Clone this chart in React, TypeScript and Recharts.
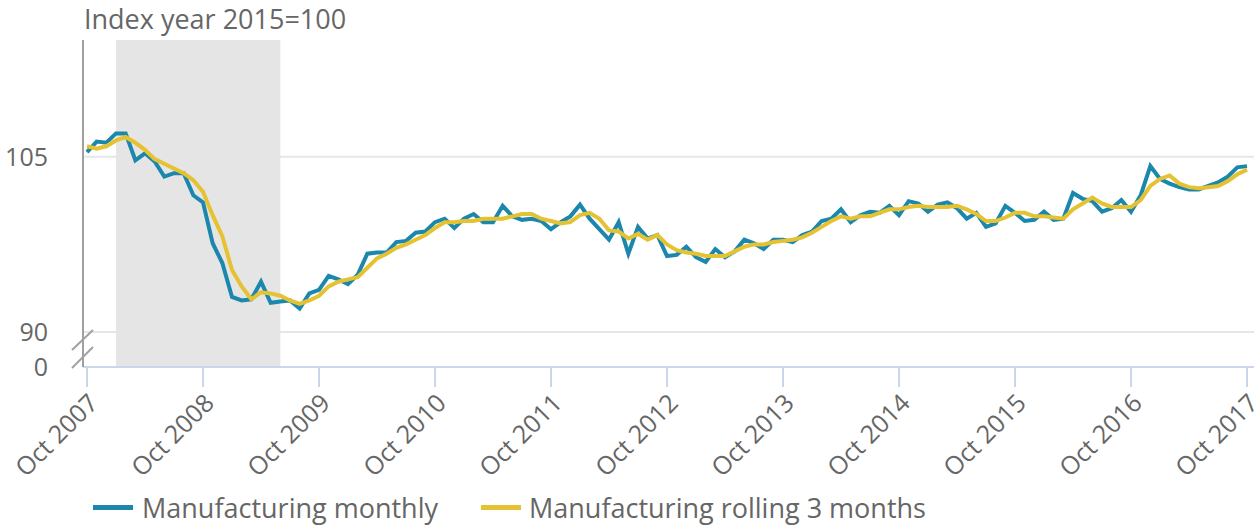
import React from "react";
import { LineChart, Line, XAxis, YAxis, CartesianGrid, ReferenceArea } from "recharts";

const MONTHS = ["Jan", "Feb", "Mar", "Apr", "May", "Jun", "Jul", "Aug", "Sep", "Oct", "Nov", "Dec"];
const START_YEAR = 2007;
const START_MONTH = 9; // October

// Manufacturing monthly, Oct 2007 - Oct 2017
const monthly = [
  105.4, 106.3, 106.2, 107.0, 107.0, 104.7, 105.3, 104.6, 103.3, 103.6, 103.6, 101.7,
  101.1, 97.6, 95.9, 93.0, 92.7, 92.8, 94.3, 92.5, 92.6, 92.7, 92.0, 93.3,
  93.6, 94.8, 94.5, 94.1, 94.9, 96.7, 96.8, 96.8, 97.7, 97.8, 98.5, 98.6,
  99.4, 99.7, 98.9, 99.7, 100.1, 99.4, 99.4, 100.8, 99.9, 99.6, 99.7, 99.5,
  98.8, 99.4, 99.9, 100.9, 99.7, 98.8, 97.9, 99.4, 96.7, 99.0, 98.0, 98.3,
  96.5, 96.6, 97.3, 96.4, 96.0, 97.1, 96.4, 96.9, 97.9, 97.6, 97.1, 97.9,
  97.9, 97.7, 98.3, 98.6, 99.5, 99.7, 100.5, 99.4, 100.0, 100.3, 100.2, 100.8,
  100.0, 101.2, 101.0, 100.3, 100.9, 101.1, 100.6, 99.7, 100.2, 99.0, 99.3, 100.8,
  100.2, 99.5, 99.6, 100.3, 99.6, 99.7, 101.9, 101.4, 101.2, 100.3, 100.6, 101.3,
  100.3, 101.7, 104.2, 103.1, 102.7, 102.4, 102.2, 102.2, 102.5, 102.8, 103.3, 104.1,
  104.2,
];

// Manufacturing rolling 3 months
const rolling = [
  105.9, 105.7, 105.9, 106.4, 106.7, 106.2, 105.6, 104.8, 104.4, 104.0, 103.6, 103.0,
  102.0, 100.0, 98.2, 95.3, 93.9, 92.8, 93.4, 93.3, 93.1, 92.7, 92.4, 92.7,
  93.1, 93.9, 94.3, 94.5, 94.7, 95.5, 96.3, 96.7, 97.2, 97.5, 97.9, 98.3,
  98.9, 99.4, 99.4, 99.5, 99.5, 99.7, 99.7, 99.7, 99.9, 100.1, 100.1, 99.7,
  99.5, 99.3, 99.4, 100.0, 100.2, 99.7, 98.7, 98.6, 98.0, 98.4, 97.9, 98.3,
  97.5, 97.0, 96.8, 96.7, 96.5, 96.5, 96.5, 96.9, 97.3, 97.5, 97.5, 97.7,
  97.8, 97.9, 98.1, 98.5, 99.0, 99.5, 99.9, 99.7, 99.9, 99.9, 100.2, 100.5,
  100.5, 100.7, 100.8, 100.7, 100.7, 100.7, 100.8, 100.5, 100.1, 99.5, 99.5, 99.8,
  100.2, 100.2, 99.9, 99.9, 99.8, 99.7, 100.5, 101.0, 101.5, 101.0, 100.7, 100.7,
  100.7, 101.3, 102.5, 103.1, 103.4, 102.7, 102.4, 102.3, 102.4, 102.5, 102.9, 103.5,
  103.9,
];

const categories = monthly.map((_, i) => {
  const m = START_MONTH + i;
  return `${MONTHS[m % 12]} ${START_YEAR + Math.floor(m / 12)}`;
});

// y axis is broken: the bottom tick stands for 0
const BREAK_VALUE = 87;
const yTicks = [87, 90, 105];
const yTickLabels = ["0", "90", "105"];
const gridValues = [90, 105];

const recession = { from: "Jan 2008", to: "Jun 2009" };

const data = categories.map((date, i) => ({
  date,
  monthly: monthly[i],
  rolling: rolling[i],
}));

const FONT = "'Open Sans', sans-serif";
const TEXT = "#666666";
const BLUE = "#1b87ad";
const YELLOW = "#e5c232";

const YTick = ({ x, y, payload }: any) => {
  const idx = yTicks.indexOf(payload.value);
  const label = idx >= 0 ? yTickLabels[idx] : payload.value;
  return (
    <g>
      <text x={x} y={y} dy="0.36em" textAnchor="end" fill={TEXT} fontSize={25} fontFamily={FONT}>
        {label}
      </text>
      {payload.value === BREAK_VALUE && (
        <g stroke="#a0a0a0" strokeWidth={2}>
          <line x1={x + 24} y1={y - 17} x2={x + 45} y2={y - 37} />
          <line x1={x + 24} y1={y + 1} x2={x + 45} y2={y - 20} />
        </g>
      )}
    </g>
  );
};

export default function App() {
  return (
    <div
      style={{
        position: "absolute",
        left: 0,
        top: 0,
        width: 1256,
        height: 526,
        background: "#fff",
        fontFamily: FONT,
      }}
    >
      <div style={{ position: "absolute", left: 84, top: 0, fontSize: 27, color: TEXT, lineHeight: "normal" }}>
        Index year 2015=100
      </div>
      <LineChart width={1256} height={526} data={data} margin={{ top: 40, right: 2, bottom: 59, left: 0 }}>
        <CartesianGrid
          vertical={false}
          horizontalValues={gridValues}
          stroke="#e6e6e6"
          strokeWidth={2}
        />
        <ReferenceArea
          x1={recession.from}
          x2={recession.to}
          fill="#e5e5e5"
          fillOpacity={1}
          stroke="none"
        />
        <XAxis
          dataKey="date"
          interval={11}
          padding={{ left: 4, right: 7 }}
          height={100}
          tickSize={20}
          tickMargin={5}
          angle={-45}
          textAnchor="end"
          axisLine={{ stroke: "#ccd6eb", strokeWidth: 2 }}
          tickLine={{ stroke: "#ccd6eb", strokeWidth: 2 }}
          tick={{ fill: TEXT, fontSize: 25, fontFamily: FONT }}
        />
        <YAxis
          type="number"
          domain={[87, 115]}
          ticks={yTicks}
          allowDataOverflow
          width={83}
          tickSize={0}
          tickMargin={35}
          tickLine={false}
          axisLine={{ stroke: "#a0a0a0", strokeWidth: 2 }}
          tick={<YTick />}
        />
        <Line
          type="linear"
          dataKey="monthly"
          name="Manufacturing monthly"
          stroke={BLUE}
          strokeWidth={4}
          dot={false}
          isAnimationActive={false}
        />
        <Line
          type="linear"
          dataKey="rolling"
          name="Manufacturing rolling 3 months"
          stroke={YELLOW}
          strokeWidth={4}
          dot={false}
          isAnimationActive={false}
        />
      </LineChart>
      <div
        style={{
          position: "absolute",
          left: 93,
          top: 489,
          display: "flex",
          alignItems: "center",
          fontSize: 27,
          color: TEXT,
          whiteSpace: "nowrap",
        }}
      >
        <span style={{ display: "inline-block", width: 40, height: 5, background: BLUE, marginRight: 9 }} />
        <span style={{ marginRight: 43 }}>Manufacturing monthly</span>
        <span style={{ display: "inline-block", width: 40, height: 5, background: YELLOW, marginRight: 8 }} />
        <span>Manufacturing rolling 3 months</span>
      </div>
    </div>
  );
}
